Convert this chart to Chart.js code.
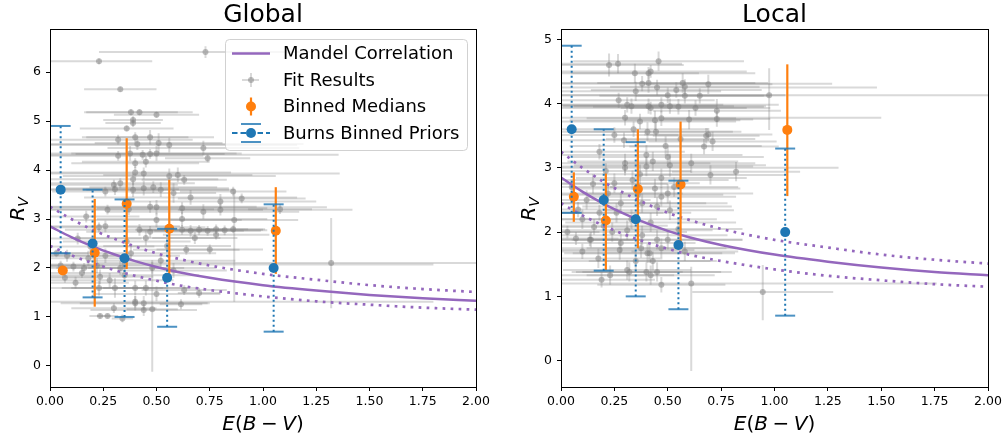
<!DOCTYPE html>
<html>
<head>
<meta charset="utf-8">
<script src="https://cdn.jsdelivr.net/npm/chart.js@4.4.1/dist/chart.umd.min.js"></script>
<style>
  body { margin: 0; background: #fff; }
  #wrap { position: relative; width: 1006px; height: 441px; }
  canvas { position: absolute; top: 0; }
</style>
</head>
<body>
<div id="wrap">
  <canvas id="globalChart" width="500" height="441" style="left:0"></canvas>
  <canvas id="localChart" width="506" height="441" style="left:500px"></canvas>
</div>
<script>
const ebvTicks = [0, 0.25, 0.5, 0.75, 1, 1.25, 1.5, 1.75, 2];
const globalRvTicks = [0, 1, 2, 3, 4, 5, 6];
const localRvTicks = [0, 1, 2, 3, 4, 5];

// Mandel correlation and its envelope
const mandelEbv = [0, 0.1, 0.2, 0.3, 0.4, 0.5, 0.6, 0.75, 1.0, 1.25, 1.5, 1.75, 2.0];
const mandelRv = [2.85, 2.63, 2.44, 2.28, 2.14, 2.02, 1.92, 1.80, 1.65, 1.54, 1.45, 1.38, 1.33];
const mandelRvHigh = [3.25, 3.00, 2.78, 2.60, 2.44, 2.30, 2.19, 2.05, 1.88, 1.76, 1.65, 1.57, 1.51];
const mandelRvLow = [2.45, 2.26, 2.10, 1.96, 1.84, 1.74, 1.65, 1.55, 1.42, 1.32, 1.25, 1.19, 1.15];

// Burns binned priors (same in both panels)
const burnsEbv = [0.05, 0.2, 0.35, 0.55, 1.05];
const burnsRv = [3.6, 2.5, 2.2, 1.8, 2.0];
const burnsRvLow = [2.3, 1.4, 1.0, 0.8, 0.7];
const burnsRvHigh = [4.9, 3.6, 3.4, 2.8, 3.3];

// binned medians
const medianEbv = [0.06, 0.21, 0.36, 0.56, 1.06];
const globalMedian = [1.95, 2.31, 3.31, 2.80, 2.76];
const globalMedianLow = [1.93, 1.21, 1.98, 1.82, 1.88];
const globalMedianHigh = [1.97, 3.41, 4.65, 3.80, 3.65];
const localMedian = [2.55, 2.18, 2.67, 2.74, 3.59];
const localMedianLow = [2.16, 1.41, 1.75, 1.79, 2.56];
const localMedianHigh = [2.93, 2.91, 3.60, 3.72, 4.61];

// global fit results (symmetric errors)
const globalFitEbv = [
  0.73,0.23,0.33,0.38,0.42,0.50,0.39,0.39,0.36,0.32,
  0.40,0.41,0.47,0.51,0.56,0.72,0.32,0.376,0.435,0.47,
  0.50,0.40,0.45,0.74,0.40,0.44,0.56,0.60,0.63,0.39,
  0.30,0.33,0.26,0.305,0.39,0.44,0.485,0.52,0.58,0.66,
  0.86,0.90,0.80,1.08,0.27,0.37,0.47,0.50,0.62,0.72,
  0.80,0.50,0.62,0.23,0.42,0.47,0.62,0.66,0.70,0.74,
  0.78,0.82,0.86,0.45,0.36,0.19,0.68,0.75,0.64,0.78,
  0.11,0.16,0.235,0.23,0.305,0.40,0.45,0.50,0.63,0.70,
  0.40,0.44,0.615,0.30,0.44,0.235,0.27,0.34,0.03,0.05,
  0.08,0.13,0.15,0.12,0.18,0.07,0.22,0.26,0.28,0.33,
  0.35,0.38,0.52,0.55,0.58,0.48,0.26,0.17];
const globalFitRv = [
  6.41,6.22,5.65,5.18,5.18,5.13,5.02,4.96,4.85,4.62,
  4.67,4.53,4.67,4.55,4.51,4.45,4.29,4.34,4.31,4.33,
  4.34,4.14,4.17,4.24,3.95,3.93,3.88,3.90,3.80,3.81,
  3.70,3.73,3.56,3.61,3.60,3.63,3.65,3.60,3.53,3.44,
  3.56,3.42,3.36,3.20,3.19,3.20,3.25,3.24,3.22,3.15,
  3.19,2.98,3.00,2.83,2.78,2.74,2.78,2.76,2.78,2.76,
  2.79,2.77,2.79,2.61,2.54,2.44,2.61,2.38,2.37,2.68,
  2.03,2.00,1.82,1.59,1.59,1.59,1.59,1.47,1.55,1.49,
  1.28,1.28,1.26,1.18,1.14,1.02,1.02,0.97,2.30,2.05,
  2.25,2.60,1.90,1.70,2.20,1.80,2.05,2.25,1.75,2.00,
  1.85,2.30,2.15,2.45,1.95,2.00,2.85,3.05];
const globalFitEbvErr = [
  0.50,0.25,0.17,0.22,0.25,0.20,0.14,0.13,0.22,0.35,
  0.25,0.78,0.30,0.30,0.60,0.45,0.40,0.50,0.92,0.35,
  0.40,0.30,0.30,0.20,0.45,0.92,0.50,0.35,0.20,0.40,
  0.30,0.35,0.25,0.30,0.45,0.40,0.30,0.35,0.20,0.50,
  0.25,0.30,0.45,0.15,1.15,0.40,0.50,0.80,0.40,0.45,
  0.20,0.40,0.40,0.50,0.35,0.30,0.20,0.25,0.30,0.25,
  0.15,0.20,0.15,0.35,0.30,0.30,0.20,0.25,0.25,0.25,
  0.15,0.20,0.25,0.30,0.25,0.30,0.20,0.30,0.20,0.10,
  0.35,0.30,0.10,0.20,0.25,0.05,0.05,0.05,0.15,0.20,
  0.25,0.30,0.20,0.25,0.20,0.15,0.30,0.35,0.30,0.30,
  0.35,0.40,0.35,0.30,0.25,0.30,0.35,0.25];
const globalFitRvErr = [
  0.12,0.06,0.05,0.06,0.06,0.06,0.08,0.08,0.06,0.10,
  0.10,0.12,0.15,0.20,0.15,0.15,0.10,0.15,0.10,0.10,
  0.15,0.10,0.12,0.08,0.12,0.12,0.15,0.15,0.10,0.12,
  0.10,0.10,0.10,0.12,0.15,0.15,0.12,0.15,0.20,0.15,
  0.10,0.10,0.15,0.10,0.10,0.12,0.12,0.15,0.12,0.15,
  0.12,0.15,0.15,0.10,0.12,0.12,0.10,0.12,0.10,0.10,
  0.10,0.10,0.08,0.15,0.12,0.12,0.12,0.10,0.10,0.10,
  0.10,0.10,0.15,0.15,0.20,0.15,0.15,0.15,0.10,0.10,
  0.15,0.15,0.10,0.10,0.12,0.05,0.05,0.08,0.08,0.10,
  0.12,0.12,0.10,0.12,0.15,0.10,0.15,0.15,0.15,0.15,
  0.12,0.15,0.15,0.15,0.15,0.12,0.12,0.12];

// global fit results with lopsided errors
const globalWideEbv = [1.32, 0.48, 0.865, 0.35, 0.40];
const globalWideRv = [2.10, 1.16, 2.98, 2.07, 1.31];
const globalWideEbvLo = [1.10, 0.12, 0.30, 0.40, 0.45];
const globalWideEbvHi = [1.00, 0.12, 0.30, 1.45, 1.40];
const globalWideRvLo = [0.92, 1.28, 1.67, 0.12, 0.12];
const globalWideRvHi = [0.92, 1.00, 0.58, 0.12, 0.12];

// local fit results (symmetric errors)
const localFitEbv = [
  0.225,0.267,0.457,0.346,0.41,0.42,0.41,0.57,0.58,0.69,
  0.35,0.50,0.54,0.58,0.65,0.31,0.33,0.41,0.42,0.47,
  0.51,0.55,0.63,0.73,0.73,0.37,0.44,0.47,0.34,0.405,
  0.445,0.69,0.68,0.295,0.25,0.49,0.67,0.71,0.40,0.50,
  0.30,0.40,0.51,0.61,0.70,0.82,0.25,0.335,0.47,0.44,
  0.50,0.36,0.28,0.45,0.51,0.155,0.20,0.31,0.38,0.45,
  0.50,0.14,0.28,0.375,0.405,0.47,0.135,0.275,0.415,0.175,
  0.31,0.23,0.19,0.40,0.45,0.47,0.32,0.42,0.05,0.08,
  0.10,0.12,0.15,0.18,0.03,0.07,0.10,0.22,0.24,0.26,
  0.33,0.38,0.42,0.47,0.53,0.55,0.58,0.35,0.43,0.37,
  0.43,0.56,0.60,0.27,0.18,0.21];
const localFitRv = [
  4.60,4.62,4.66,4.47,4.47,4.50,4.32,4.32,4.26,4.30,
  4.19,4.13,4.21,4.12,4.12,3.98,3.96,3.96,3.93,3.98,
  3.96,3.95,3.93,3.89,3.76,3.72,3.74,3.77,3.60,3.56,
  3.56,3.52,3.50,3.43,3.51,3.34,3.33,3.41,3.20,3.17,
  3.07,3.02,3.04,3.07,2.89,2.94,2.76,2.81,2.84,2.68,
  2.60,2.58,2.45,2.40,2.34,2.08,2.10,2.03,1.95,1.88,
  1.88,1.88,1.83,1.75,1.67,1.75,1.88,1.72,1.67,1.59,
  1.41,1.33,1.26,1.38,1.38,1.18,1.38,1.33,2.70,2.35,
  2.20,2.50,2.75,2.30,2.00,1.90,1.70,2.60,2.00,2.30,
  2.20,2.45,2.15,2.55,2.70,2.05,1.70,1.55,1.55,2.90,
  3.10,3.45,3.75,4.05,3.25,2.95];
const localFitEbvErr = [
  0.35,0.30,0.40,0.30,0.50,0.45,0.50,0.40,0.35,0.30,
  0.40,0.55,0.40,0.40,0.30,0.45,0.40,0.40,0.45,0.55,
  0.45,0.40,0.35,0.30,0.25,0.45,0.40,0.35,0.35,0.40,
  0.40,0.30,0.25,0.40,0.30,0.45,0.35,0.30,0.45,0.45,
  0.40,0.50,0.45,0.30,0.35,0.30,0.40,0.45,0.40,0.40,
  0.40,0.40,0.40,0.35,0.30,0.30,0.30,0.40,0.40,0.40,
  0.35,0.20,0.35,0.40,0.35,0.35,0.25,0.35,0.40,0.30,
  0.30,0.30,0.25,0.35,0.35,0.30,0.25,0.30,0.20,0.20,
  0.25,0.30,0.35,0.30,0.15,0.20,0.25,0.35,0.35,0.35,
  0.40,0.40,0.40,0.35,0.30,0.30,0.25,0.35,0.30,0.45,
  0.40,0.35,0.30,0.45,0.40,0.40];
const localFitRvErr = [
  0.18,0.15,0.15,0.15,0.10,0.10,0.15,0.15,0.12,0.15,
  0.15,0.12,0.12,0.12,0.12,0.12,0.12,0.12,0.10,0.12,
  0.12,0.12,0.12,0.18,0.12,0.12,0.15,0.12,0.12,0.15,
  0.15,0.10,0.12,0.12,0.12,0.15,0.12,0.15,0.15,0.15,
  0.15,0.15,0.18,0.15,0.15,0.15,0.15,0.15,0.15,0.15,
  0.15,0.15,0.15,0.15,0.15,0.12,0.12,0.15,0.15,0.15,
  0.15,0.12,0.15,0.15,0.15,0.15,0.10,0.15,0.15,0.15,
  0.15,0.15,0.12,0.15,0.15,0.12,0.15,0.15,0.12,0.12,
  0.15,0.15,0.15,0.12,0.10,0.10,0.12,0.15,0.15,0.15,
  0.15,0.15,0.15,0.15,0.15,0.15,0.15,0.15,0.15,0.15,
  0.15,0.15,0.15,0.12,0.12,0.12];

// local fit results with lopsided errors
const localWideEbv = [0.975, 0.61, 0.945, 0.30, 0.45, 0.38, 0.30];
const localWideRv = [4.13, 1.20, 1.07, 3.78, 4.25, 4.31, 3.00];
const localWideEbvLo = [1.00, 0.65, 0.33, 0.35, 0.45, 0.40, 0.35];
const localWideEbvHi = [1.10, 1.15, 0.33, 1.20, 1.03, 0.89, 1.00];
const localWideRvLo = [0.54, 1.36, 0.44, 0.12, 0.12, 0.12, 0.12];
const localWideRvHi = [0.42, 0.26, 0.42, 0.12, 0.12, 0.12, 0.12];

const PURPLE = '#9467bd';
const ORANGE = '#ff7f0e';
const BLUE = '#1f77b4';
const FONT = '"DejaVu Sans", sans-serif';

// draws x/y error bars (and optional caps) under each dataset that has them
const errorBars = {
  id: 'errorBars',
  beforeDatasetDraw(chart, args) {
    const ds = chart.data.datasets[args.index];
    const eb = ds.errorBars;
    if (!eb) return;
    const { ctx, chartArea: a } = chart;
    const xs = chart.scales.x, ys = chart.scales.y;
    ctx.save();
    ctx.beginPath();
    ctx.rect(a.left, a.top, a.right - a.left, a.bottom - a.top);
    ctx.clip();
    ctx.strokeStyle = eb.color;
    ctx.lineWidth = eb.width;
    ctx.setLineDash(eb.dash || []);
    ds.data.forEach((p, i) => {
      const px = xs.getPixelForValue(p.x);
      const py = ys.getPixelForValue(p.y);
      ctx.beginPath();
      if (eb.xLow) {
        ctx.moveTo(xs.getPixelForValue(eb.xLow[i]), py);
        ctx.lineTo(xs.getPixelForValue(eb.xHigh[i]), py);
      }
      if (eb.yLow) {
        ctx.moveTo(px, ys.getPixelForValue(eb.yLow[i]));
        ctx.lineTo(px, ys.getPixelForValue(eb.yHigh[i]));
      }
      ctx.stroke();
    });
    if (eb.cap) {
      ctx.setLineDash([]);
      ctx.strokeStyle = eb.capColor || eb.color;
      ctx.lineWidth = eb.capWidth || eb.width;
      ds.data.forEach((p, i) => {
        const px = xs.getPixelForValue(p.x);
        [eb.yLow[i], eb.yHigh[i]].forEach(v => {
          const py = ys.getPixelForValue(v);
          ctx.beginPath();
          ctx.moveTo(px - eb.cap, py);
          ctx.lineTo(px + eb.cap, py);
          ctx.stroke();
        });
      });
    }
    ctx.restore();
  }
};

function drawMathLabel(ctx, parts, cx, y, size) {
  // parts: [text, italic, gapAfter]
  let total = 0;
  parts.forEach(p => {
    ctx.font = (p[1] ? 'italic ' : '') + size + 'px ' + FONT;
    p.w = ctx.measureText(p[0]).width;
    total += p.w + (p[2] || 0);
  });
  let x = cx - total / 2;
  ctx.textAlign = 'left';
  parts.forEach(p => {
    ctx.font = (p[1] ? 'italic ' : '') + size + 'px ' + FONT;
    ctx.fillText(p[0], x, y);
    x += p.w + (p[2] || 0);
  });
}

// frame, title, axis labels and the legend
const panelDecor = {
  id: 'panelDecor',
  afterDraw(chart, args, opts) {
    const { ctx, chartArea: a } = chart;
    ctx.save();
    ctx.strokeStyle = '#000';
    ctx.lineWidth = 1;
    ctx.strokeRect(Math.round(a.left) + 0.5, Math.round(a.top) + 0.5,
      Math.round(a.right - a.left), Math.round(a.bottom - a.top));

    ctx.fillStyle = '#000';
    ctx.textBaseline = 'alphabetic';
    ctx.textAlign = 'center';
    ctx.font = '25px ' + FONT;
    const cx = (a.left + a.right) / 2;
    ctx.fillText(opts.title, cx, 22);

    drawMathLabel(ctx, [['E', true], ['(', false], ['B', true, 4.5], ['\u2212', false, 4.5], ['V', true], [')', false]], cx, 430, 20);

    // R_V, rotated
    ctx.save();
    ctx.translate(a.left - 26, (a.top + a.bottom) / 2 + 1);
    ctx.rotate(-Math.PI / 2);
    ctx.font = 'italic 20px ' + FONT;
    const rw = ctx.measureText('R').width;
    ctx.font = 'italic 14px ' + FONT;
    const vw = ctx.measureText('V').width;
    const start = -(rw + vw) / 2;
    ctx.textAlign = 'left';
    ctx.font = 'italic 20px ' + FONT;
    ctx.fillText('R', start, 0);
    ctx.font = 'italic 14px ' + FONT;
    ctx.fillText('V', start + rw, 4);
    ctx.restore();

    if (opts.legend) drawLegend(ctx);
    ctx.restore();
  }
};

function drawLegend(ctx) {
  const x0 = 225, y0 = 39, w = 242, h = 111;
  ctx.save();
  ctx.beginPath();
  ctx.roundRect(x0 + 0.5, y0 + 0.5, w, h, 4);
  ctx.fillStyle = 'rgba(255,255,255,0.8)';
  ctx.fill();
  ctx.strokeStyle = 'rgba(204,204,204,0.9)';
  ctx.lineWidth = 1;
  ctx.stroke();

  const hx = 251, rows = [53.5, 80, 106.5, 133];
  // Mandel line
  ctx.strokeStyle = PURPLE; ctx.lineWidth = 2.5;
  ctx.beginPath(); ctx.moveTo(232, rows[0]); ctx.lineTo(270, rows[0]); ctx.stroke();
  // fit result cross
  ctx.strokeStyle = 'rgba(128,128,128,0.3)'; ctx.lineWidth = 2;
  ctx.beginPath();
  ctx.moveTo(242, rows[1]); ctx.lineTo(259, rows[1]);
  ctx.moveTo(hx, rows[1] - 7); ctx.lineTo(hx, rows[1] + 7);
  ctx.stroke();
  ctx.fillStyle = 'rgba(128,128,128,0.5)';
  ctx.beginPath(); ctx.arc(hx, rows[1], 3, 0, Math.PI * 2); ctx.fill();
  // binned median
  ctx.strokeStyle = ORANGE; ctx.lineWidth = 2.2;
  ctx.beginPath(); ctx.moveTo(hx, rows[2] - 9); ctx.lineTo(hx, rows[2] + 9); ctx.stroke();
  ctx.fillStyle = ORANGE;
  ctx.beginPath(); ctx.arc(hx, rows[2], 5, 0, Math.PI * 2); ctx.fill();
  // Burns prior
  ctx.strokeStyle = BLUE; ctx.lineWidth = 2;
  ctx.setLineDash([5.5, 3]);
  ctx.beginPath(); ctx.moveTo(232, rows[3]); ctx.lineTo(270, rows[3]); ctx.stroke();
  ctx.setLineDash([]);
  ctx.strokeStyle = 'rgba(31,119,180,0.8)';
  ctx.beginPath();
  ctx.moveTo(hx - 10, rows[3] - 9); ctx.lineTo(hx + 10, rows[3] - 9);
  ctx.moveTo(hx - 10, rows[3] + 9); ctx.lineTo(hx + 10, rows[3] + 9);
  ctx.stroke();
  ctx.fillStyle = BLUE;
  ctx.beginPath(); ctx.arc(hx, rows[3], 5, 0, Math.PI * 2); ctx.fill();

  ctx.fillStyle = '#000';
  ctx.font = '18px ' + FONT;
  ctx.textAlign = 'left';
  ctx.textBaseline = 'middle';
  ['Mandel Correlation', 'Fit Results', 'Binned Medians', 'Burns Binned Priors']
    .forEach((t, i) => ctx.fillText(t, 283, rows[i] + 1));
  ctx.restore();
}

function points(xs, ys) {
  return xs.map((x, i) => ({ x, y: ys[i] }));
}

function fitDataset(ebv, rv, ebvErr, rvErr, wEbv, wRv, wLo, wHi, wRvLo, wRvHi) {
  const allE = ebv.concat(wEbv);
  const allRv = rv.concat(wRv);
  const xLow = ebv.map((e, i) => e - ebvErr[i]).concat(wEbv.map((e, i) => e - wLo[i]));
  const xHigh = ebv.map((e, i) => e + ebvErr[i]).concat(wEbv.map((e, i) => e + wHi[i]));
  const yLow = rv.map((r, i) => r - rvErr[i]).concat(wRv.map((r, i) => r - wRvLo[i]));
  const yHigh = rv.map((r, i) => r + rvErr[i]).concat(wRv.map((r, i) => r + wRvHi[i]));
  return {
    label: 'Fit Results',
    data: points(allE, allRv),
    order: 5,
    pointRadius: 3,
    pointBorderWidth: 0,
    backgroundColor: 'rgba(128,128,128,0.5)',
    errorBars: { xLow, xHigh, yLow, yHigh, color: 'rgba(128,128,128,0.3)', width: 2 }
  };
}

function mandelLine(values, dotted) {
  return {
    label: 'Mandel Correlation',
    data: points(mandelEbv, values),
    showLine: true,
    order: 4,
    pointRadius: 0,
    borderColor: PURPLE,
    borderWidth: dotted ? 2.7 : 2.5,
    borderDash: dotted ? [2.7, 5.3] : [],
    cubicInterpolationMode: 'monotone',
    fill: false
  };
}

function makePanel(id, title, fit, median, medLow, medHigh, rvTicks, rvMin, rvMax, axisWidth, padRight, legend) {
  return new Chart(document.getElementById(id), {
    type: 'scatter',
    data: {
      datasets: [
        fit,
        mandelLine(mandelRv, false),
        mandelLine(mandelRvHigh, true),
        mandelLine(mandelRvLow, true),
        {
          label: 'Binned Medians',
          data: points(medianEbv, median),
          order: 2,
          pointRadius: 5,
          pointBorderWidth: 0,
          backgroundColor: ORANGE,
          errorBars: { yLow: medLow, yHigh: medHigh, color: ORANGE, width: 2.2 }
        },
        {
          label: 'Burns Binned Priors',
          data: points(burnsEbv, burnsRv),
          order: 1,
          pointRadius: 5,
          pointBorderWidth: 0,
          backgroundColor: BLUE,
          errorBars: { yLow: burnsRvLow, yHigh: burnsRvHigh, color: BLUE, width: 2, dash: [2, 3],
            cap: 10, capColor: 'rgba(31,119,180,0.8)', capWidth: 2 }
        }
      ]
    },
    options: {
      responsive: false,
      animation: false,
      events: [],
      layout: { padding: { top: 29, right: padRight, left: 0, bottom: 0 } },
      plugins: {
        legend: { display: false },
        tooltip: { enabled: false },
        panelDecor: { title, legend }
      },
      scales: {
        x: {
          type: 'linear', min: 0, max: 2,
          afterBuildTicks: s => { s.ticks = ebvTicks.map(v => ({ value: v })); },
          afterFit: s => { s.height = 54; },
          border: { display: false },
          grid: { drawOnChartArea: false, drawTicks: true, tickLength: 4, color: '#000', lineWidth: 1 },
          ticks: { color: '#000', font: { family: FONT, size: 12.5 }, padding: 3, maxRotation: 0,
            callback: v => v.toFixed(2) }
        },
        y: {
          type: 'linear', min: rvMin, max: rvMax,
          afterBuildTicks: s => { s.ticks = rvTicks.map(v => ({ value: v })); },
          afterFit: s => { s.width = axisWidth; },
          border: { display: false },
          grid: { drawOnChartArea: false, drawTicks: true, tickLength: 4, color: '#000', lineWidth: 1 },
          ticks: { color: '#000', font: { family: FONT, size: 12.5 }, padding: 5,
            callback: v => String(v) }
        }
      }
    },
    plugins: [errorBars, panelDecor]
  });
}

makePanel('globalChart', 'Global',
  fitDataset(globalFitEbv, globalFitRv, globalFitEbvErr, globalFitRvErr,
    globalWideEbv, globalWideRv, globalWideEbvLo, globalWideEbvHi, globalWideRvLo, globalWideRvHi),
  globalMedian, globalMedianLow, globalMedianHigh, globalRvTicks, -0.43, 6.88, 50, 24, true);

makePanel('localChart', 'Local',
  fitDataset(localFitEbv, localFitRv, localFitEbvErr, localFitRvErr,
    localWideEbv, localWideRv, localWideEbvLo, localWideEbvHi, localWideRvLo, localWideRvHi),
  localMedian, localMedianLow, localMedianHigh, localRvTicks, -0.41, 5.16, 61, 18, false);
</script>
</body>
</html>
